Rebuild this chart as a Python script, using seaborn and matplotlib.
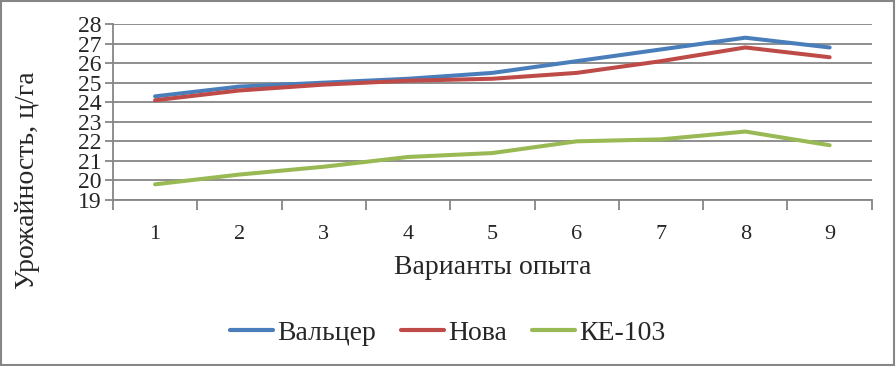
import matplotlib
matplotlib.use("Agg")
import matplotlib.pyplot as plt
import matplotlib.patches as mpatches
import seaborn as sns
import pandas as pd
import numpy as np

# data
variants = [1, 2, 3, 4, 5, 6, 7, 8, 9]
valtser = [24.3, 24.8, 25.0, 25.2, 25.5, 26.1, 26.7, 27.3, 26.8]
nova = [24.1, 24.6, 24.9, 25.1, 25.2, 25.5, 26.1, 26.8, 26.3]
ke103 = [19.8, 20.3, 20.7, 21.2, 21.4, 22.0, 22.1, 22.5, 21.8]
series_names = ["Вальцер", "Нова", "КЕ-103"]
y_ticks = list(range(19, 29))

sns.set_theme(style="white")
plt.rcParams["font.family"] = ["Liberation Serif", "DejaVu Serif"]

df = pd.DataFrame({
    "variant": variants * 3,
    "value": valtser + nova + ke103,
    "sort": [s for s in series_names for _ in variants],
})

colors = ["#4a7ebb", "#be4b48", "#98b954"]
grid_col = "#868686"

fig = plt.figure(figsize=(8.96, 3.66), dpi=100)
ax = fig.add_axes([0.126, 0.4536, 0.847, 0.4808])

sns.lineplot(data=df, x="variant", y="value", hue="sort", palette=colors,
             hue_order=series_names, linewidth=2.9, ax=ax, legend=False,
             zorder=3)

ax.set_xlim(0.5, 9.5)
ax.set_ylim(19, 28)
ax.set_yticks(y_ticks)
ax.set_yticklabels([str(t) for t in y_ticks], fontsize=17)
ax.yaxis.grid(True, color=grid_col, linewidth=1.3)
ax.xaxis.grid(False)

# category boundaries as ticks, labels in the middle
ax.set_xticks(np.arange(0.5, 10, 1.0))
ax.set_xticklabels([])
ax.set_xticks(variants, minor=True)
ax.set_xticklabels([str(v) for v in variants], minor=True, fontsize=16)
ax.tick_params(axis="x", which="major", direction="out", length=7,
               width=1.3, color=grid_col, bottom=True)
ax.tick_params(axis="x", which="minor", length=0, pad=18)
ax.tick_params(axis="y", direction="out", length=6, width=1.3,
               color=grid_col, left=True, pad=2)

for side in ["top", "right"]:
    ax.spines[side].set_visible(False)
for side in ["left", "bottom"]:
    ax.spines[side].set_color(grid_col)
    ax.spines[side].set_linewidth(1.3)

ax.set_xlabel("")
ax.set_ylabel("")
fig.text(0.5495, 1 - 268 / 366, "Варианты опыта", fontsize=20,
         ha="center", va="center")
fig.text(28 / 896, 1 - 180 / 366, "Урожайность, ц/га", fontsize=20,
         ha="center", va="center", rotation=90)

handles = [plt.Line2D([], [], color=c, linewidth=3.0,
                      solid_capstyle="round") for c in colors]
fig.legend(handles, series_names, loc="center", ncol=3, frameon=False,
           fontsize=20, bbox_to_anchor=(0.5, 1 - 333 / 366),
           handlelength=1.55, handletextpad=0.15, columnspacing=0.9)

# outer chart frame
fig.patches.append(mpatches.Rectangle((0.001, 0.002), 0.997, 0.995,
                                      transform=fig.transFigure, fill=False,
                                      edgecolor="#868686", linewidth=1.5))

fig.savefig("out.png", dpi=100)
